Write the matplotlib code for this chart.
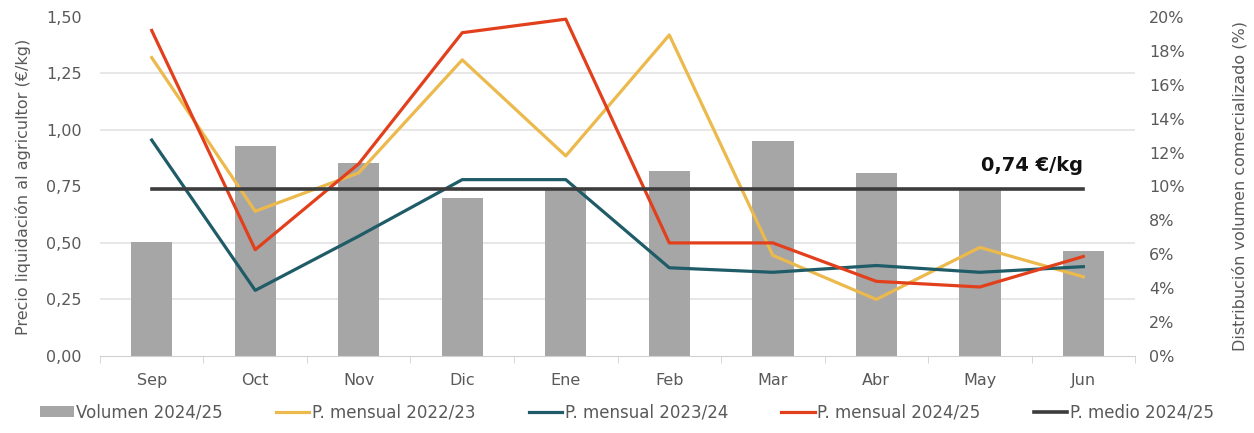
import matplotlib
matplotlib.use("Agg")
import matplotlib.pyplot as plt
from matplotlib.ticker import FixedLocator, FuncFormatter, MultipleLocator
import numpy as np

# Campaign months
months = ["Sep", "Oct", "Nov", "Dic", "Ene", "Feb", "Mar", "Abr", "May", "Jun"]

# Share of marketed volume 2024/25 (%)
volumen_2425 = [6.7, 12.4, 11.4, 9.3, 9.9, 10.9, 12.7, 10.8, 9.9, 6.2]

# Monthly settlement price to the grower (€/kg)
precio_2223 = [1.32, 0.64, 0.81, 1.31, 0.885, 1.42, 0.445, 0.25, 0.48, 0.35]
precio_2324 = [0.955, 0.29, 0.53, 0.78, 0.78, 0.39, 0.37, 0.40, 0.37, 0.395]
precio_2425 = [1.44, 0.47, 0.85, 1.43, 1.49, 0.50, 0.50, 0.33, 0.305, 0.44]

# Average price 2024/25 (€/kg)
precio_medio = 0.74
etiqueta_medio = "0,74 €/kg"

C_BAR = "#a6a6a6"
C_2223 = "#ecb94c"
C_2324 = "#1f5c68"
C_2425 = "#e2401c"
C_MEDIO = "#3c3c3c"
C_TXT = "#595959"
C_GRID = "#e3e3e3"

plt.rcParams["font.family"] = ["DejaVu Sans"]

fig = plt.figure(figsize=(12.54, 4.33), dpi=100)
ax_vol = fig.add_axes([0.0797, 0.178, 0.8255, 0.783])
ax_pre = ax_vol.twinx()

x = np.arange(len(months))

# Volume bars (right axis), grid behind them
ax_vol.bar(x, volumen_2425, width=0.4, color=C_BAR, zorder=2,
           label="Volumen 2024/25")
ax_vol.set_ylim(0, 20)
ax_vol.set_xlim(-0.5, len(months) - 0.5)
ax_vol.yaxis.tick_right()
ax_vol.yaxis.set_label_position("right")
ax_vol.yaxis.set_major_locator(MultipleLocator(2))
ax_vol.yaxis.set_major_formatter(FuncFormatter(lambda v, p: f"{v:.0f}%"))
ax_vol.yaxis.set_minor_locator(FixedLocator(np.linspace(0, 20, 7)))
ax_vol.grid(axis="y", which="minor", color=C_GRID, linewidth=1.2, zorder=0)
ax_vol.grid(axis="y", which="major", visible=False)
ax_vol.tick_params(axis="y", which="major", length=0, pad=10,
                   labelsize=11.5, labelcolor=C_TXT)
ax_vol.tick_params(axis="y", which="minor", length=0)
ax_vol.set_ylabel("Distribución volumen comercializado (%)", fontsize=11.5,
                  color=C_TXT, labelpad=34, rotation=90)
ax_vol.set_axisbelow(True)

# Price lines (left axis)
ax_pre.plot(x, precio_2223, color=C_2223, lw=2.3, label="P. mensual 2022/23")
ax_pre.plot(x, precio_2324, color=C_2324, lw=2.3, label="P. mensual 2023/24")
ax_pre.plot(x, precio_2425, color=C_2425, lw=2.3, label="P. mensual 2024/25")
ax_pre.plot(x, [precio_medio] * len(months), color=C_MEDIO, lw=2.6,
            label="P. medio 2024/25")
ax_pre.text(x[-2] + 0.5, precio_medio + 0.06, etiqueta_medio, ha="center",
            va="bottom", fontsize=14, fontweight="bold", color="#111111")
ax_pre.set_ylim(0, 1.5)
ax_pre.yaxis.tick_left()
ax_pre.yaxis.set_label_position("left")
ax_pre.yaxis.set_major_locator(MultipleLocator(0.25))
ax_pre.yaxis.set_major_formatter(
    FuncFormatter(lambda v, p: f"{v:.2f}".replace(".", ",")))
ax_pre.tick_params(axis="y", length=0, pad=13, labelsize=11.5,
                   labelcolor=C_TXT)
ax_pre.set_ylabel("Precio liquidación al agricultor (€/kg)", fontsize=11.5,
                  color=C_TXT, labelpad=11)

# Category axis
ax_vol.set_xticks(x)
ax_vol.set_xticklabels(months)
ax_vol.xaxis.set_minor_locator(FixedLocator(np.arange(-0.5, len(months), 1)))
ax_vol.tick_params(axis="x", which="major", length=0, pad=12,
                   labelsize=11.5, labelcolor=C_TXT)
ax_vol.tick_params(axis="x", which="minor", length=5, color="#d0d0d0",
                   direction="out")
for axis in (ax_vol, ax_pre):
    for side in ("top", "left", "right", "bottom"):
        axis.spines[side].set_visible(False)
ax_vol.spines["bottom"].set_visible(True)
ax_vol.spines["bottom"].set_color("#d0d0d0")

# Legend
h1, l1 = ax_vol.get_legend_handles_labels()
h2, l2 = ax_pre.get_legend_handles_labels()
leg = fig.legend(h1 + h2, l1 + l2, loc="lower center", ncol=5,
                 bbox_to_anchor=(0.5, -0.008), frameon=False, fontsize=12,
                 handlelength=2.0, handletextpad=0.15, columnspacing=3.2)
for t in leg.get_texts():
    t.set_color(C_TXT)

fig.savefig("out.png", dpi=100)
